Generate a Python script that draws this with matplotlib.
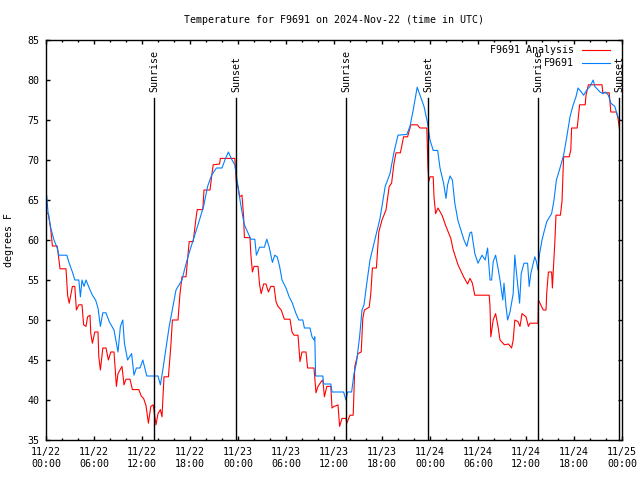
"""
Temperatur for F9691, 22.-25. nov 2024 (UTC), analyse mod målt
"""
import pandas as pd
import matplotlib
matplotlib.use("Agg")
import matplotlib.pyplot as plt
import matplotlib.dates as mdates

# timer efter 2024-11-22 00:00 UTC og temperatur i grader F
analyse_timer = [0.0, 0.2, 0.3, 0.6, 0.8, 1.4, 1.5, 1.75, 2.5, 2.7, 2.9, 3.3, 3.6, 3.8, 4.1, 4.5, 4.7, 5.0,
                 5.2, 5.5, 5.6, 5.8, 6.1, 6.5, 6.6, 6.8, 7.1, 7.5, 7.8, 8.1, 8.5, 8.8, 9.0, 9.5, 9.75, 10.0,
                 10.5, 10.8, 11.6, 11.9, 12.2, 12.5, 12.8, 13.1, 13.4, 13.75, 14.0, 14.3, 14.5, 14.75, 15.3,
                 15.6, 15.8, 16.5, 16.75, 17.0, 17.5, 17.9, 18.4, 18.75, 18.9, 19.6, 19.75, 20.5, 20.75,
                 20.9, 21.7, 21.8, 23.6, 23.8, 24.0, 24.2, 24.5, 24.7, 24.8, 25.5, 25.6, 25.8, 26.0, 26.5,
                 26.7, 26.9, 27.2, 27.5, 27.8, 28.1, 28.5, 28.75, 29.0, 29.4, 29.8, 30.5, 30.75, 31.0, 31.5,
                 31.75, 32.0, 32.5, 32.7, 33.5, 33.75, 34.0, 34.4, 34.6, 34.8, 35.1, 35.6, 35.75, 36.0,
                 36.3, 36.5, 36.7, 37.0, 37.5, 37.6, 38.0, 38.4, 38.6, 39.0, 39.4, 39.6, 39.8, 40.4, 40.6,
                 40.8, 41.3, 41.6, 42.0, 42.5, 42.9, 43.2, 43.5, 43.75, 44.3, 44.7, 45.2, 45.6, 46.4, 46.75,
                 47.6, 47.75, 47.85, 48.0, 48.4, 48.5, 48.7, 49.0, 49.5, 50.0, 50.6, 50.9, 51.5, 52.2,
                 52.7, 53.0, 53.3, 53.6, 55.4, 55.5, 55.6, 55.9, 56.2, 56.5, 56.75, 57.3, 57.8, 58.2, 58.4,
                 58.6, 59.0, 59.25, 59.5, 60.0, 60.3, 60.5, 61.5, 61.55, 61.8, 62.16, 62.5, 62.6, 62.8,
                 63.2, 63.3, 63.4, 63.6, 63.75, 64.3, 64.5, 64.7, 65.4, 65.6, 65.7, 66.4, 66.7, 67.4, 67.5,
                 67.8, 69.5, 69.6, 70.4, 70.6, 71.3, 71.5, 71.7]
analyse_temp = [63.5, 63.3, 63.3, 61.25, 59.25, 59.25, 58.5, 56.4, 56.4, 53.1, 52.1, 54.2, 54.2, 51.25, 51.9,
                51.9, 49.4, 49.2, 50.4, 50.6, 48.3, 47.1, 48.5, 48.5, 45.4, 43.75, 46.5, 46.5, 45.0, 46.0,
                46.0, 41.7, 43.3, 44.2, 41.9, 42.6, 42.6, 41.3, 41.3, 40.5, 40.2, 39.3, 37.1, 39.2, 39.4,
                36.9, 38.3, 38.8, 37.9, 42.9, 42.9, 46.7, 50.0, 50.0, 53.3, 55.4, 55.4, 59.8, 59.8, 62.7,
                63.8, 63.8, 66.25, 66.25, 68.3, 69.4, 69.5, 70.2, 70.2, 67.1, 66.7, 65.4, 65.6, 62.9, 60.3,
                60.3, 58.3, 56.0, 56.7, 56.7, 54.4, 53.3, 54.5, 54.5, 53.5, 54.2, 54.2, 52.3, 51.7, 51.25,
                50.1, 50.1, 48.5, 48.1, 48.1, 44.8, 46.0, 46.0, 44.0, 44.0, 40.9, 41.7, 42.3, 42.5, 40.4,
                41.7, 41.7, 39.0, 39.2, 39.3, 39.4, 36.7, 37.7, 37.7, 37.1, 38.1, 38.1, 44.2, 45.8, 46.0,
                50.2, 51.25, 51.6, 53.3, 56.5, 56.5, 61.0, 62.5, 63.75, 66.7, 67.1, 69.6, 70.9, 70.9, 72.9,
                72.9, 74.4, 74.4, 74.0, 74.0, 69.0, 67.3, 67.9, 67.9, 65.4, 63.3, 64.0, 63.1, 61.7, 60.2,
                58.75, 56.9, 55.4, 54.5, 55.2, 54.6, 53.1, 53.1, 51.7, 47.9, 50.0, 50.8, 49.2, 47.5, 46.9,
                47.0, 46.5, 47.5, 50.0, 49.8, 49.2, 50.8, 50.4, 49.2, 49.6, 49.6, 52.5, 52.0, 51.25, 51.25,
                53.5, 56.0, 56.0, 54.0, 56.0, 59.6, 63.1, 63.1, 64.8, 70.4, 70.4, 71.25, 74.0, 74.0, 76.9,
                76.9, 78.1, 79.4, 79.4, 78.4, 78.4, 76.0, 76.0, 75.2, 73.75]

maalt_timer = [0.0, 0.08, 0.25, 0.6, 1.0, 1.4, 1.6, 2.6, 2.9, 3.3, 3.6, 4.1, 4.3, 4.5, 4.75, 5.0, 5.4, 5.8,
               6.2, 6.5, 6.8, 7.1, 7.5, 7.9, 8.5, 9.0, 9.3, 9.6, 9.8, 10.2, 10.7, 11.0, 11.3, 11.75, 12.1,
               12.6, 14.0, 14.3, 14.6, 15.0, 15.4, 15.7, 16.25, 17.0, 17.3, 17.8, 18.4, 19.0, 19.7, 20.2,
               20.7, 21.3, 22.0, 22.4, 22.8, 23.2, 23.6, 24.0, 24.25, 24.6, 24.8, 25.2, 25.6, 26.1, 26.3,
               26.7, 27.3, 27.6, 27.9, 28.3, 28.6, 28.9, 29.2, 29.5, 30.0, 30.4, 30.8, 31.25, 31.6, 32.1,
               32.3, 33.0, 33.25, 33.5, 33.6, 33.7, 34.6, 34.7, 35.6, 35.75, 37.2, 37.5, 37.7, 38.2, 38.5,
               38.8, 39.2, 39.5, 39.75, 40.1, 40.5, 41.1, 41.75, 42.4, 43.0, 43.5, 44.0, 45.1, 45.5, 45.9,
               46.4, 46.75, 47.25, 47.7, 48.0, 48.4, 48.96, 49.25, 49.7, 50.0, 50.2, 50.5, 50.8, 51.1,
               51.5, 51.9, 52.25, 52.6, 53.0, 53.2, 53.6, 54.0, 54.5, 54.9, 55.2, 55.5, 55.7, 55.9, 56.2,
               56.5, 56.75, 57.1, 57.25, 57.5, 57.7, 58.0, 58.4, 58.6, 58.8, 59.2, 59.4, 59.75, 60.2,
               60.4, 60.6, 61.1, 61.3, 61.5, 61.7, 62.0, 62.25, 62.6, 63.2, 63.5, 63.8, 64.25, 64.7, 65.1,
               65.5, 65.9, 66.25, 66.5, 66.75, 67.2, 67.6, 68.0, 68.4, 68.6, 69.25, 69.6, 69.9, 70.3,
               70.6, 71.1, 71.3, 71.5, 71.75]
maalt_temp = [65.8, 65.6, 63.5, 61.5, 60.0, 59.0, 58.1, 58.1, 57.1, 56.0, 55.0, 55.0, 52.9, 55.0, 54.2, 55.0,
              54.0, 53.1, 52.5, 51.5, 49.2, 50.9, 50.9, 49.8, 48.75, 46.0, 49.2, 50.0, 47.1, 45.0, 45.8,
              43.1, 44.0, 44.0, 45.0, 43.0, 43.0, 41.9, 43.75, 46.5, 49.2, 50.8, 53.75, 55.0, 56.25, 58.1,
              60.0, 61.9, 64.2, 66.7, 68.1, 69.0, 69.0, 70.1, 71.0, 70.1, 69.4, 66.7, 65.0, 62.9, 61.9,
              61.0, 60.1, 60.1, 58.1, 59.1, 59.1, 60.1, 59.1, 57.2, 58.1, 57.9, 56.7, 55.0, 54.0, 52.9,
              52.1, 50.8, 50.0, 50.0, 49.0, 49.0, 47.9, 47.5, 47.9, 43.0, 43.0, 42.0, 42.0, 41.0, 41.0,
              40.0, 41.0, 41.0, 43.3, 44.6, 47.9, 51.25, 51.9, 54.6, 57.5, 60.0, 62.7, 66.7, 68.3, 71.0,
              73.1, 73.2, 74.2, 76.25, 79.1, 78.1, 76.7, 74.6, 72.5, 71.2, 71.2, 69.0, 67.1, 65.2, 66.9,
              68.0, 67.5, 64.6, 62.4, 61.1, 60.0, 59.2, 60.9, 61.0, 58.3, 57.1, 58.1, 57.5, 59.0, 55.0,
              55.0, 57.3, 58.1, 56.5, 55.0, 52.5, 54.6, 51.7, 50.0, 51.0, 53.3, 58.1, 56.0, 52.1, 55.8,
              57.1, 57.1, 54.2, 55.8, 57.9, 57.3, 56.25, 58.3, 60.0, 61.0, 62.3, 63.3, 65.0, 67.5, 69.0,
              70.6, 72.9, 75.4, 76.9, 77.9, 79.0, 78.7, 78.1, 78.75, 79.2, 80.0, 79.2, 78.5, 78.3, 78.5,
              78.1, 77.1, 76.7, 76.0, 75.4, 75.0]

sol_tider = ["2024-11-22 13:32", "2024-11-22 23:47", "2024-11-23 13:32",
             "2024-11-23 23:47", "2024-11-24 13:32", "2024-11-24 23:41"]
sol_navne = ["Sunrise", "Sunset", "Sunrise", "Sunset", "Sunrise", "Sunset"]

start = pd.Timestamp("2024-11-22 00:00")
analyse_tid = start + pd.to_timedelta(analyse_timer, unit="h")
maalt_tid = start + pd.to_timedelta(maalt_timer, unit="h")

plt.rcParams['font.family'] = ['DejaVu Sans Mono']
plt.rcParams['font.size'] = 7.2

fig = plt.figure(figsize=(6.4, 4.8), dpi=100)
ax = fig.add_axes([46/640, 40/480, 576/640, 400/480])

ax.plot(analyse_tid, analyse_temp, color='#ff0000', lw=0.8)
ax.plot(maalt_tid, maalt_temp, color='#0080ff', lw=0.8)

# sol op / ned
for t, navn in zip(sol_tider, sol_navne):
    ts = pd.Timestamp(t)
    ax.axvline(ts, ymin=0, ymax=(440-98)/400, color='black', lw=1.0)
    ax.text(ts, 0.87, navn, rotation=90, ha='center', va='bottom',
            transform=ax.get_xaxis_transform())

# forklaring
ax.text(0.9167, 0.975, 'F9691 Analysis', ha='right', va='center', transform=ax.transAxes)
ax.plot([0.9306, 0.979], [0.975, 0.975], color='#ff0000', lw=0.8, transform=ax.transAxes)
ax.text(0.9167, 0.9425, 'F9691', ha='right', va='center', transform=ax.transAxes)
ax.plot([0.9306, 0.979], [0.9425, 0.9425], color='#0080ff', lw=0.8, transform=ax.transAxes)

ax.set_xlim(pd.Timestamp("2024-11-22 00:00"), pd.Timestamp("2024-11-25 00:00"))
ax.set_ylim(35, 85)
ax.set_yticks(range(35, 86, 5))
ax.xaxis.set_major_locator(mdates.HourLocator(byhour=[0, 6, 12, 18]))
ax.xaxis.set_minor_locator(mdates.HourLocator(byhour=range(0, 24, 2)))
ax.xaxis.set_major_formatter(mdates.DateFormatter('%m/%d\n%H:%M'))
ax.tick_params(which='both', direction='in', top=True, right=True, width=1.0, color='black')
ax.tick_params(which='major', length=3.2)
ax.tick_params(which='minor', length=1.6)
ax.tick_params(axis='y', pad=4.5)
ax.tick_params(axis='x', pad=5)
for s in ax.spines.values():
    s.set_linewidth(1.0)

ax.set_ylabel('degrees F')
ax.yaxis.set_label_coords(-0.055, 0.5)
fig.text(334/640, 1 - 20/480, 'Temperature for F9691 on 2024-Nov-22 (time in UTC)',
         ha='center', va='center')

plt.savefig("out.png", dpi=100)
